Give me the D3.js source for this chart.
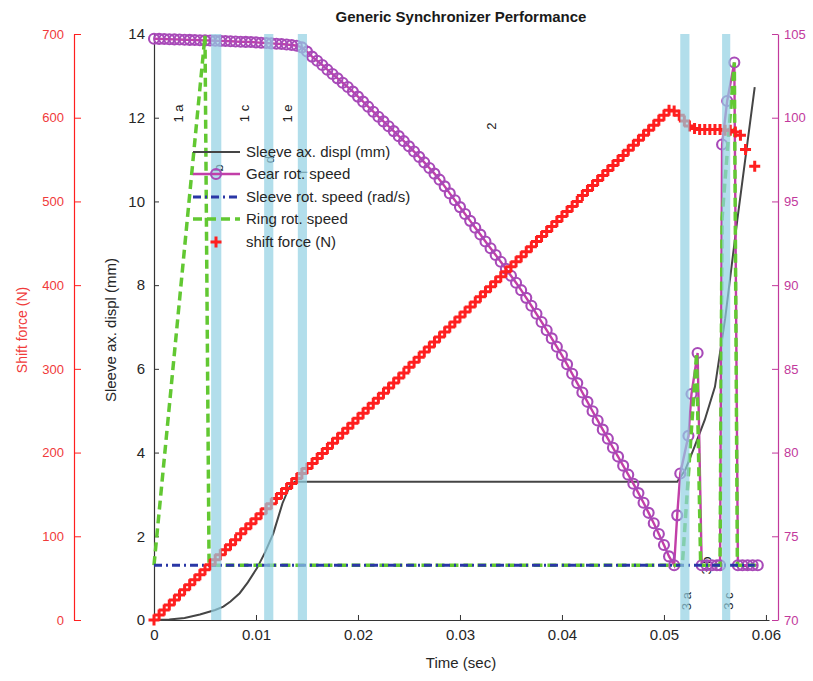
<!DOCTYPE html>
<meta charset="utf-8" />
<style>
  body { margin: 0; background: #fff; }
  svg text { font-family: "Liberation Sans", Arial, sans-serif; }
</style>
<svg width="813" height="681"></svg>
<script src="https://d3js.org/d3.v7.min.js"></script>
<script>
    // ---- data (time in ms) ----
    var displT = [0, 1.5, 3, 4.5, 6, 6.8, 7.5, 8.4, 9.2, 10.1, 10.9, 11.7, 12.6, 13.3, 13.8, 51.3, 52.1, 53.0, 54.0, 55.0, 56.0, 57.2, 58.9];
    var displMM = [0, 0.01, 0.05, 0.13, 0.24, 0.32, 0.44, 0.64, 0.9, 1.24, 1.62, 2.07, 2.79, 3.19, 3.3, 3.3, 3.59, 4.14, 4.78, 5.57, 7.2, 9.57, 12.73];

    var gearT = [0, 0.5, 1, 1.5, 2, 2.5, 3, 3.5, 4, 4.5, 5, 5.5, 6, 6.5, 7, 7.5, 8, 8.5, 9, 9.5,
        10, 10.5, 11, 11.5, 12, 12.5, 13, 13.5, 14, 14.5, 15, 15.5, 16, 16.5, 17, 17.5, 18, 18.5, 19, 19.5,
        20, 20.5, 21, 21.5, 22, 22.5, 23, 23.5, 24, 24.5, 25, 25.5, 26, 26.5, 27, 27.5, 28, 28.5, 29, 29.5,
        30, 30.5, 31, 31.5, 32, 32.5, 33, 33.5, 34, 34.5, 35, 35.5, 36, 36.5, 37, 37.5, 38, 38.5, 39, 39.5,
        40, 40.5, 41, 41.5, 42, 42.5, 43, 43.5, 44, 44.5, 45, 45.5, 46, 46.5, 47, 47.5, 48, 48.5, 49, 49.5,
        50, 50.5, 51,
        51.3, 51.6, 52.4, 52.7, 53.3, 53.7, 54.2, 54.7, 55.2, 55.5, 55.7, 56.2, 56.9, 57.25, 57.7, 58.2, 58.7, 59.2];
    var gearSpeed = [104.72, 104.71, 104.70, 104.69, 104.68, 104.67, 104.66, 104.65, 104.64, 104.63,
        104.62, 104.61, 104.60, 104.59, 104.58, 104.57, 104.55, 104.54, 104.53, 104.52,
        104.50, 104.48, 104.46, 104.44, 104.42, 104.40, 104.37, 104.34, 104.30, 104.20,
        103.95, 103.65, 103.40, 103.15, 102.87, 102.61, 102.35, 102.09, 101.83, 101.56,
        101.26, 100.96, 100.66, 100.36, 100.06, 99.78, 99.49, 99.20, 98.90, 98.60,
        98.29, 97.98, 97.66, 97.33, 97.00, 96.66, 96.30, 95.90, 95.48, 95.07,
        94.66, 94.25, 93.84, 93.43, 93.02, 92.61, 92.20, 91.80, 91.40, 90.98,
        90.56, 90.14, 89.70, 89.24, 88.77, 88.29, 87.80, 87.31, 86.82, 86.32,
        85.81, 85.27, 84.71, 84.15, 83.59, 83.03, 82.47, 81.92, 81.37, 80.83,
        80.29, 79.76, 79.22, 78.68, 78.14, 77.58, 77.00, 76.40, 75.78, 75.14,
        74.48, 73.80, 73.27,
        76.25, 78.75, 81.0, 83.5, 85.95, 73.27, 73.27, 73.27, 73.27, 73.27, 98.4, 101.0, 103.3, 73.27, 73.27, 73.27, 73.27, 73.27];

    var sleeveT = [0, 58.9];
    var sleeveSpeed = [73.27, 73.27];

    var ringT = [0, 5.0, 5.4, 51.8, 53.2, 53.6, 55.5, 55.7, 56.9, 57.2, 59.0];
    var ringSpeed = [73.27, 104.9, 73.27, 73.27, 85.95, 73.27, 73.27, 94.0, 103.3, 73.27, 73.27];

    var forceT = [0, 0.5, 1, 1.5, 2, 2.5, 3, 3.5, 4, 4.5, 5, 5.5, 6, 6.5, 7, 7.5, 8, 8.5, 9, 9.5,
        10, 10.5, 11, 11.5, 12, 12.5, 13, 13.5, 14, 14.5, 15, 15.5, 16, 16.5, 17, 17.5, 18, 18.5, 19, 19.5,
        20, 20.5, 21, 21.5, 22, 22.5, 23, 23.5, 24, 24.5, 25, 25.5, 26, 26.5, 27, 27.5, 28, 28.5, 29, 29.5,
        30, 30.5, 31, 31.5, 32, 32.5, 33, 33.5, 34, 34.5, 35, 35.5, 36, 36.5, 37, 37.5, 38, 38.5, 39, 39.5,
        40, 40.5, 41, 41.5, 42, 42.5, 43, 43.5, 44, 44.5, 45, 45.5, 46, 46.5, 47, 47.5, 48, 48.5, 49, 49.5,
        50, 50.5, 51, 51.5, 52, 52.5, 53, 53.5, 54, 54.5, 55, 55.5, 56, 56.5, 57, 57.5, 58, 58.9];
    var forceN = [0, 6, 12, 18, 24, 30, 36, 42, 48, 54, 60, 66, 72, 78, 84, 90, 96, 103, 109, 115,
        121, 127, 133, 139, 145, 151, 157, 163, 169, 175, 181, 187, 193, 199, 205, 211, 217, 223, 229, 235,
        241, 247, 253, 259, 265, 271, 277, 283, 289, 295, 302, 308, 314, 320, 326, 332, 338, 344, 350, 356,
        362, 368, 374, 380, 386, 392, 398, 404, 410, 416, 422, 428, 434, 440, 446, 452, 458, 464, 470, 476,
        482, 488, 494, 500, 507, 513, 519, 525, 531, 537, 543, 549, 555, 561, 567, 573, 579, 585, 591, 597,
        603, 609, 608, 603, 596, 590, 587, 586, 586, 586, 586, 586, 585, 585, 583, 579, 562, 542];

    // phase bands [start, end] in ms
    var bandStart = [5.6, 10.8, 14.1, 51.6, 55.7];
    var bandEnd = [6.6, 11.7, 15.0, 52.5, 56.5];

    // phase labels: text, time (ms), height (mm)
    var phaseText = ["1 a", "b", "1 c", "d", "1 e", "f", "2", "3 a", "3 b", "3 c", "4"];
    var phaseT = [2.35, 6.3, 8.9, 11.3, 13.1, 14.6, 33.1, 52.2, 54.2, 56.3, 58.0];
    var phaseMM = [12.1, 10.8, 12.1, 11.0, 12.1, 10.7, 11.8, 0.45, 1.3, 0.45, 1.25];

    var timeTicks = [0, 10, 20, 30, 40, 50, 60];
    var displTicks = [0, 2, 4, 6, 8, 10, 12, 14];
    var forceTicks = [0, 100, 200, 300, 400, 500, 600, 700];
    var speedTicks = [70, 75, 80, 85, 90, 95, 100, 105];

    var legendNames = ["Sleeve ax. displ (mm)", "Gear rot. speed", "Sleeve rot. speed (rad/s)", "Ring rot. speed", "shift force (N)"];

    // ---- colours ----
    var cGrey = "#454545", cGear = "#c23fa8", cGearMk = "#a84ab8", cBlue = "#2a37a6",
        cGreen = "#62c832", cRed = "#ff1f1f", cMag = "#c2399c", cBand = "#92d0e2";

    var svg = d3.select("svg");

    var x = d3.scaleLinear().domain([0, 60.3]).range([154, 769]);
    var yL = d3.scaleLinear().domain([0, 14]).range([620, 34]);
    var yR = d3.scaleLinear().domain([70, 105]).range([620, 34]);
    var yF = d3.scaleLinear().domain([0, 700]).range([620, 34]);

    function zip(ts, vs) { return ts.map(function (t, i) { return [t, vs[i]]; }); }

    // ---- axes ----
    var gx = svg.append("g").attr("transform", "translate(0,620)")
        .call(d3.axisBottom(x).tickValues(timeTicks).tickSize(-5).tickSizeOuter(0).tickPadding(9)
            .tickFormat(function (d) { return d === 0 ? "0" : String(d / 1000); }));
    var gl = svg.append("g").attr("transform", "translate(154,0)")
        .call(d3.axisLeft(yL).tickValues(displTicks).tickSize(-5).tickSizeOuter(0).tickPadding(9));
    var gf = svg.append("g").attr("transform", "translate(74,0)")
        .call(d3.axisLeft(yF).tickValues(forceTicks).tickSize(-7).tickSizeOuter(0).tickPadding(10));
    var gr = svg.append("g").attr("transform", "translate(778,0)")
        .call(d3.axisRight(yR).tickValues(speedTicks).tickSize(-6).tickSizeOuter(0).tickPadding(6));

    [gx, gl].forEach(function (g) {
        g.select(".domain").attr("stroke", "#333").attr("stroke-width", 1.2);
        g.selectAll(".tick line").attr("stroke", "#333");
        g.selectAll("text").attr("fill", "#262626").style("font-size", "15px");
    });
    gf.select(".domain").attr("stroke", cRed).attr("stroke-width", 1.2);
    gf.selectAll(".tick line").attr("stroke", cRed);
    gf.selectAll("text").attr("fill", "#f03a3a").style("font-size", "13px");
    gr.select(".domain").attr("stroke", cMag).attr("stroke-width", 1.2);
    gr.selectAll(".tick line").attr("stroke", cMag);
    gr.selectAll("text").attr("fill", cMag).style("font-size", "13px");

    // ---- phase labels (under bands) ----
    svg.append("g").selectAll("text").data(phaseText).enter().append("text")
        .attr("transform", function (d, i) { return "translate(" + x(phaseT[i]) + "," + yL(phaseMM[i]) + ") rotate(-90)"; })
        .attr("text-anchor", "middle").attr("dy", "0.35em")
        .style("font-size", "13px").attr("fill", "#222")
        .text(function (d) { return d; });

    // ---- series ----
    var line = function (ys) {
        return d3.line().x(function (d) { return x(d[0]); }).y(function (d) { return ys(d[1]); });
    };

    svg.append("path").datum(zip(displT, displMM)).attr("d", line(yL))
        .attr("fill", "none").attr("stroke", cGrey).attr("stroke-width", 2);

    var gearData = zip(gearT, gearSpeed);
    svg.append("path").datum(gearData).attr("d", line(yR))
        .attr("fill", "none").attr("stroke", cGear).attr("stroke-width", 2.4);
    svg.append("g").selectAll("circle").data(gearData).enter().append("circle")
        .attr("cx", function (d) { return x(d[0]); })
        .attr("cy", function (d) { return yR(d[1]); })
        .attr("r", 5).attr("fill", "none").attr("stroke", cGearMk).attr("stroke-width", 2.1);

    svg.append("path").datum(zip(ringT, ringSpeed)).attr("d", line(yR))
        .attr("fill", "none").attr("stroke", cGreen).attr("stroke-width", 3.5)
        .attr("stroke-dasharray", "9,5");

    svg.append("path").datum(zip(sleeveT, sleeveSpeed)).attr("d", line(yR))
        .attr("fill", "none").attr("stroke", cBlue).attr("stroke-width", 3)
        .attr("stroke-dasharray", "8,4,2,4");

    function drawPlus(g, cx, cy) {
        g.append("path").attr("d", "M" + (cx - 5.5) + "," + cy + "H" + (cx + 5.5) + "M" + cx + "," + (cy - 5.5) + "V" + (cy + 5.5))
            .attr("stroke", cRed).attr("stroke-width", 3).attr("fill", "none");
    }
    var gForce = svg.append("g");
    zip(forceT, forceN).forEach(function (d) { drawPlus(gForce, x(d[0]), yF(d[1])); });

    // ---- phase bands (semi-transparent, on top) ----
    svg.append("g").selectAll("rect").data(bandStart).enter().append("rect")
        .attr("x", function (d) { return x(d); })
        .attr("width", function (d, i) { return x(bandEnd[i]) - x(d); })
        .attr("y", yL(14)).attr("height", yL(0) - yL(14))
        .attr("fill", cBand).attr("opacity", 0.7);

    // ---- legend ----
    var leg = svg.append("g");
    var rowY = [152, 174, 197, 219, 242];
    leg.append("line").attr("x1", 193).attr("x2", 240).attr("y1", rowY[0]).attr("y2", rowY[0])
        .attr("stroke", cGrey).attr("stroke-width", 2);
    leg.append("line").attr("x1", 193).attr("x2", 240).attr("y1", rowY[1]).attr("y2", rowY[1])
        .attr("stroke", cGear).attr("stroke-width", 2.4);
    leg.append("circle").attr("cx", 216).attr("cy", rowY[1]).attr("r", 5)
        .attr("fill", "none").attr("stroke", cGearMk).attr("stroke-width", 2.1);
    leg.append("line").attr("x1", 193).attr("x2", 240).attr("y1", rowY[2]).attr("y2", rowY[2])
        .attr("stroke", cBlue).attr("stroke-width", 3).attr("stroke-dasharray", "8,4,2,4");
    leg.append("line").attr("x1", 193).attr("x2", 240).attr("y1", rowY[3]).attr("y2", rowY[3])
        .attr("stroke", cGreen).attr("stroke-width", 3.5).attr("stroke-dasharray", "9,5");
    drawPlus(leg, 216, rowY[4]);
    leg.selectAll("text").data(legendNames).enter().append("text")
        .attr("x", 246).attr("y", function (d, i) { return rowY[i]; }).attr("dy", "0.35em")
        .style("font-size", "15px").attr("fill", "#262626")
        .text(function (d) { return d; });

    // ---- titles ----
    svg.append("text").attr("x", 461).attr("y", 22).attr("text-anchor", "middle")
        .style("font-size", "15px").style("font-weight", "bold").attr("fill", "#1a1a1a")
        .text("Generic Synchronizer Performance");
    svg.append("text").attr("x", 461).attr("y", 668).attr("text-anchor", "middle")
        .style("font-size", "15px").attr("fill", "#262626").text("Time (sec)");
    svg.append("text").attr("transform", "translate(116,330) rotate(-90)").attr("text-anchor", "middle")
        .style("font-size", "15px").attr("fill", "#262626").text("Sleeve ax. displ (mm)");
    svg.append("text").attr("transform", "translate(27,330) rotate(-90)").attr("text-anchor", "middle")
        .style("font-size", "14px").attr("fill", "#f03a3a").text("Shift force (N)");
</script>
